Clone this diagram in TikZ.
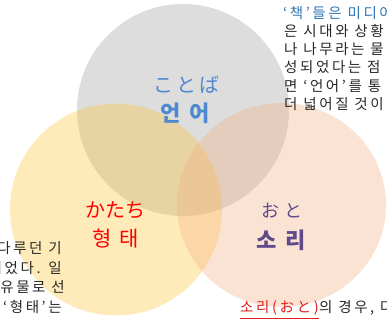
\documentclass[tikz,border=0pt]{standalone}
\usepackage{fontspec}
\setmainfont{Noto Sans CJK KR}
\newfontfamily\krtext[LetterSpace=18]{Noto Sans CJK KR}
\newfontfamily\krlabel{Noto Sans CJK KR}
\definecolor{cgray}{RGB}{221,221,221}
\definecolor{cyellow}{RGB}{255,195,40}
\definecolor{cpeach}{RGB}{244,177,131}
\definecolor{lblblue}{RGB}{78,136,208}
\definecolor{lblred}{RGB}{255,0,0}
\definecolor{lblpurple}{RGB}{95,75,140}
\definecolor{txtblue}{RGB}{46,117,182}
\definecolor{txtblack}{RGB}{40,40,40}
\definecolor{txtred}{RGB}{225,30,30}
\tikzset{
  body/.style={inner sep=0pt, font=\krtext\fontsize{14.5}{14.5}\selectfont, text=txtblack},
  lbl/.style={inner sep=0pt, font=\krlabel\fontsize{20}{20}\selectfont},
  biglbl/.style={inner sep=0pt, font=\krlabel\bfseries\fontsize{22}{22}\selectfont},
}
\begin{document}
\begin{tikzpicture}[x=1pt,y=-1pt]
\useasboundingbox (0,0) rectangle (387,321);
\clip (0,0) rectangle (387,321);
\fill[white] (0,0) rectangle (387,321);
% circles
\fill[cgray] (183,110) circle (106);
\fill[cyellow, fill opacity=0.32] (116,209.5) circle (106);
\fill[cpeach, fill opacity=0.35] (281.5,205) ellipse [x radius=104.5, y radius=102];
% labels
\node[lbl, text=lblblue] (kotoba) at (186,85) {こ\hspace{3pt}と\hspace{3pt}ば};
\node[biglbl, text=lblblue] (eoneo) at (185,113) {언\hspace{9pt}어};
\node[lbl, text=lblred] (katachi) at (115,210) {かたち};
\node[lbl, text=lblred, font=\krlabel\fontsize{21}{21}\selectfont] (hyeongtae) at (116,239) {형\hspace{8pt}태};
\node[lbl, text=lblpurple, font=\krlabel\fontsize{18}{18}\selectfont] (oto) at (282,211) {お\hspace{5pt}と};
\node[biglbl, text=lblpurple] (sori) at (281,240) {소\hspace{9pt}리};
% top right text
\node[body, anchor=west, text=txtblue] (t1) at (283,13) {‘책’들은 미디어};
\node[body, anchor=west] (t2) at (284,31) {은 시대와 상황};
\node[body, anchor=west] (t3) at (284,49) {나 나무라는 물};
\node[body, anchor=west] (t4) at (284,67) {성되었다는 점};
\node[body, anchor=west] (t5) at (284,86) {면 ‘언어’를 통};
\node[body, anchor=west] (t6) at (284,104) {더 넓어질 것이};
% bottom left text
\node[body, anchor=east] (b1) at (62,248) {다루던 기};
\node[body, anchor=east] (b2) at (62,268) {되었다. 일};
\node[body, anchor=east] (b3) at (65,287) {유물로 선};
\node[body, anchor=west] (b4) at (3,307) {‘형태’는};
% bottom right text
\node[body, anchor=west, text=txtred] (so) at (240,308) {소리(おと)};
\node[body, anchor=west] (so2) at (so.east) {의 경우, 다};
\draw[txtred, line width=1.2pt] ([yshift=-2.5pt]so.south west) -- ([yshift=-2.5pt]so.south east);
\end{tikzpicture}
\end{document}
